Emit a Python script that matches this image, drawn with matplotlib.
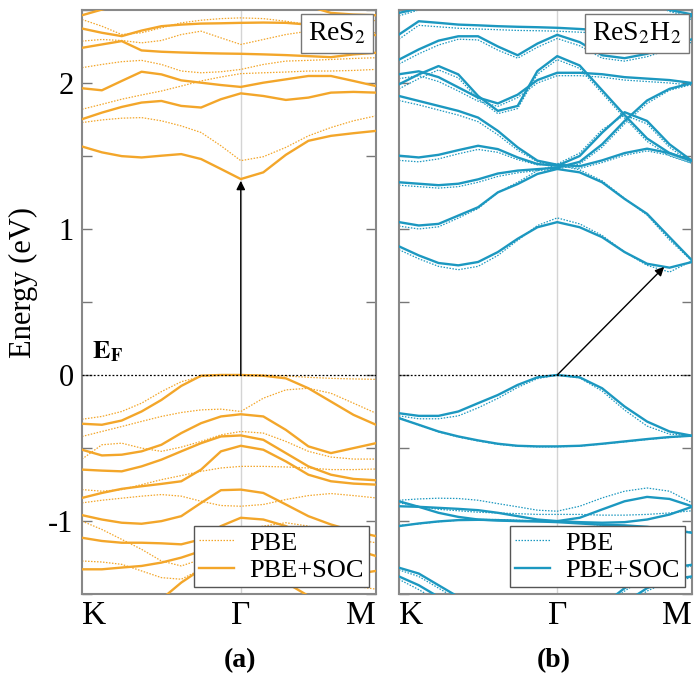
import numpy as np
import matplotlib
matplotlib.use('Agg')
import matplotlib.pyplot as plt
from matplotlib.lines import Line2D

plt.rcParams['font.family'] = ['Liberation Serif', 'DejaVu Serif']
plt.rcParams['mathtext.fontset'] = 'stix'
plt.rcParams['axes.unicode_minus'] = False

# ---------------- data ----------------
kpath_labels = ['K', 'Γ', 'M']
gamma_frac = 0.54
y_tick_values = [-1.5, -1.0, -0.5, 0.0, 0.5, 1.0, 1.5, 2.0, 2.5]
y_tick_labels = ['', '-1', '', '0', '', '1', '', '2', '']

# Panel (a) ReS2 : energies (eV) at 15 k-points along K-Γ-M
res2_soc = [
    [2.464, 2.503, 2.537, 2.548, 2.548, 2.548, 2.548, 2.548, 2.548, 2.548, 2.548, 2.526, 2.480, 2.469, 2.464],
    [2.373, 2.344, 2.321, 2.359, 2.389, 2.400, 2.407, 2.409, 2.412, 2.414, 2.412, 2.400, 2.366, 2.337, 2.328],
    [2.241, 2.264, 2.287, 2.223, 2.214, 2.209, 2.205, 2.202, 2.200, 2.196, 2.191, 2.184, 2.177, 2.196, 2.207],
    [1.964, 1.950, 2.014, 2.077, 2.059, 2.018, 2.002, 1.986, 1.973, 2.002, 2.025, 2.048, 2.048, 2.014, 1.979],
    [1.752, 1.797, 1.836, 1.866, 1.877, 1.843, 1.832, 1.889, 1.929, 1.911, 1.884, 1.900, 1.934, 1.939, 1.934],
    [1.565, 1.525, 1.499, 1.490, 1.502, 1.513, 1.479, 1.411, 1.342, 1.388, 1.508, 1.604, 1.638, 1.656, 1.672],
    [-0.334, -0.341, -0.312, -0.250, -0.171, -0.075, -0.005, 0.0, 0.0, -0.005, -0.023, -0.091, -0.182, -0.273, -0.341],
    [-0.512, -0.551, -0.546, -0.523, -0.478, -0.398, -0.330, -0.284, -0.269, -0.284, -0.376, -0.489, -0.535, -0.501, -0.467],
    [-0.648, -0.655, -0.660, -0.626, -0.580, -0.523, -0.467, -0.421, -0.414, -0.444, -0.535, -0.626, -0.683, -0.712, -0.721],
    [-0.842, -0.808, -0.780, -0.762, -0.746, -0.728, -0.648, -0.523, -0.485, -0.512, -0.592, -0.683, -0.728, -0.744, -0.751],
    [-0.960, -0.990, -1.012, -1.019, -1.001, -0.967, -0.876, -0.789, -0.785, -0.808, -0.887, -0.967, -1.024, -1.069, -1.104],
    [-1.115, -1.137, -1.149, -1.149, -1.153, -1.160, -1.126, -1.035, -0.978, -0.990, -1.035, -1.104, -1.149, -1.194, -1.240],
    [-1.331, -1.331, -1.319, -1.308, -1.285, -1.251, -1.206, -1.183, -1.183, -1.217, -1.285, -1.354, -1.376, -1.365, -1.342],
    [-1.560, -1.560, -1.560, -1.560, -1.536, -1.422, -1.331, -1.285, -1.274, -1.331, -1.422, -1.513, -1.560, -1.560, -1.560],
]
res2_pbe = [
    [2.435, 2.389, 2.332, 2.344, 2.378, 2.412, 2.430, 2.441, 2.446, 2.441, 2.423, 2.400, 2.412, 2.423, 2.428],
    [2.287, 2.298, 2.291, 2.275, 2.291, 2.332, 2.355, 2.309, 2.264, 2.298, 2.332, 2.355, 2.366, 2.355, 2.344],
    [2.105, 2.127, 2.146, 2.155, 2.127, 2.082, 2.070, 2.077, 2.093, 2.127, 2.150, 2.155, 2.161, 2.168, 2.173],
    [1.820, 1.854, 1.889, 1.918, 1.945, 1.979, 2.014, 2.041, 2.064, 2.070, 2.075, 2.082, 2.082, 2.086, 2.093],
    [1.729, 1.747, 1.759, 1.763, 1.741, 1.706, 1.661, 1.570, 1.468, 1.495, 1.559, 1.638, 1.695, 1.741, 1.775],
    [-0.303, -0.284, -0.250, -0.193, -0.114, -0.046, -0.011, 0.0, 0.0, 0.0, -0.007, -0.016, -0.023, -0.027, -0.030],
    [-0.421, -0.387, -0.353, -0.318, -0.284, -0.257, -0.239, -0.234, -0.250, -0.159, -0.102, -0.091, -0.125, -0.193, -0.262],
    [-0.576, -0.478, -0.467, -0.501, -0.523, -0.494, -0.455, -0.410, -0.387, -0.398, -0.455, -0.523, -0.562, -0.576, -0.576],
    [-0.785, -0.796, -0.785, -0.751, -0.717, -0.689, -0.660, -0.637, -0.626, -0.626, -0.630, -0.637, -0.648, -0.648, -0.644],
    [-0.876, -0.858, -0.844, -0.830, -0.819, -0.830, -0.865, -0.894, -0.899, -0.887, -0.853, -0.826, -0.812, -0.826, -0.842],
    [-1.001, -1.058, -1.126, -1.194, -1.274, -1.308, -1.263, -1.149, -1.058, -1.035, -1.012, -1.035, -1.081, -1.126, -1.149],
    [-1.274, -1.281, -1.297, -1.342, -1.388, -1.399, -1.331, -1.263, -1.240, -1.263, -1.308, -1.376, -1.422, -1.445, -1.467],
]

# Panel (b) ReS2H2
res2h2_soc = [
    [0.881, 0.819, 0.767, 0.751, 0.774, 0.842, 0.933, 1.012, 1.047, 1.012, 0.944, 0.842, 0.762, 0.735, 0.774],
    [1.047, 1.024, 1.035, 1.092, 1.149, 1.251, 1.308, 1.377, 1.411, 1.388, 1.320, 1.206, 1.104, 0.944, 0.785],
    [1.320, 1.310, 1.300, 1.310, 1.340, 1.380, 1.400, 1.410, 1.420, 1.460, 1.580, 1.740, 1.880, 1.960, 2.000],
    [1.502, 1.490, 1.508, 1.540, 1.570, 1.547, 1.490, 1.445, 1.433, 1.500, 1.660, 1.800, 1.740, 1.580, 1.467],
    [1.911, 1.877, 1.843, 1.809, 1.763, 1.672, 1.559, 1.468, 1.440, 1.430, 1.470, 1.520, 1.550, 1.520, 1.467],
    [2.060, 2.080, 2.040, 1.970, 1.900, 1.860, 1.920, 2.020, 2.070, 2.070, 2.060, 2.040, 2.030, 2.020, 2.000],
    [1.991, 2.059, 2.116, 2.059, 1.911, 1.809, 1.843, 2.082, 2.184, 2.120, 1.950, 1.780, 1.620, 1.520, 1.467],
    [2.160, 2.230, 2.290, 2.320, 2.320, 2.250, 2.190, 2.270, 2.330, 2.280, 2.190, 2.170, 2.200, 2.250, 2.300],
    [2.332, 2.423, 2.412, 2.400, 2.395, 2.389, 2.385, 2.382, 2.378, 2.370, 2.360, 2.360, 2.380, 2.420, 2.460],
    [2.480, 2.510, 2.560, 2.600, 2.600, 2.600, 2.600, 2.600, 2.600, 2.600, 2.600, 2.600, 2.560, 2.500, 2.470],
    [-0.262, -0.280, -0.280, -0.250, -0.193, -0.137, -0.068, -0.016, 0.000, -0.016, -0.091, -0.216, -0.319, -0.387, -0.416],
    [-0.296, -0.341, -0.387, -0.421, -0.448, -0.471, -0.485, -0.489, -0.489, -0.485, -0.471, -0.455, -0.439, -0.425, -0.416],
    [-0.899, -0.903, -0.910, -0.917, -0.926, -0.944, -0.967, -0.990, -1.001, -0.978, -0.921, -0.865, -0.835, -0.849, -0.899],
    [-0.865, -0.903, -0.944, -0.972, -0.990, -0.997, -1.001, -1.001, -1.001, -1.008, -1.012, -1.008, -0.990, -0.956, -0.903],
    [-1.035, -1.017, -1.003, -0.994, -0.992, -0.994, -0.999, -1.003, -1.008, -1.017, -1.026, -1.030, -1.040, -1.058, -1.081],
    [-1.320, -1.360, -1.440, -1.520, -1.580, -1.640, -1.700, -1.740, -1.750, -1.700, -1.580, -1.460, -1.360, -1.320, -1.300],
    [-1.380, -1.440, -1.520, -1.600, -1.680, -1.740, -1.800, -1.820, -1.820, -1.780, -1.680, -1.560, -1.460, -1.400, -1.380],
]
res2h2_pbe = [
    [0.858, 0.796, 0.744, 0.721, 0.744, 0.819, 0.922, 1.024, 1.076, 1.035, 0.956, 0.842, 0.751, 0.705, 0.781],
    [1.020, 1.000, 1.015, 1.075, 1.140, 1.250, 1.320, 1.400, 1.440, 1.405, 1.330, 1.210, 1.095, 0.925, 0.781],
    [1.300, 1.290, 1.280, 1.290, 1.320, 1.360, 1.385, 1.400, 1.410, 1.445, 1.560, 1.720, 1.860, 1.950, 1.990],
    [1.470, 1.460, 1.480, 1.515, 1.545, 1.525, 1.475, 1.440, 1.445, 1.520, 1.680, 1.780, 1.720, 1.560, 1.450],
    [1.880, 1.850, 1.815, 1.780, 1.735, 1.645, 1.540, 1.460, 1.430, 1.415, 1.455, 1.505, 1.535, 1.505, 1.450],
    [2.030, 2.050, 2.010, 1.945, 1.875, 1.840, 1.900, 2.000, 2.050, 2.050, 2.040, 2.020, 2.010, 2.000, 1.985],
    [1.960, 2.030, 2.090, 2.035, 1.890, 1.790, 1.825, 2.060, 2.160, 2.100, 1.930, 1.760, 1.600, 1.500, 1.450],
    [2.130, 2.200, 2.260, 2.300, 2.295, 2.225, 2.170, 2.245, 2.305, 2.255, 2.170, 2.150, 2.180, 2.230, 2.280],
    [2.300, 2.395, 2.385, 2.375, 2.370, 2.365, 2.360, 2.358, 2.355, 2.348, 2.340, 2.340, 2.360, 2.400, 2.440],
    [2.460, 2.500, 2.550, 2.600, 2.600, 2.600, 2.600, 2.600, 2.600, 2.600, 2.600, 2.600, 2.550, 2.490, 2.450],
    [-0.280, -0.300, -0.300, -0.280, -0.225, -0.160, -0.085, -0.025, 0.000, -0.020, -0.110, -0.240, -0.350, -0.405, -0.416],
    [-0.290, -0.345, -0.390, -0.425, -0.452, -0.475, -0.488, -0.492, -0.492, -0.487, -0.473, -0.458, -0.442, -0.428, -0.416],
    [-0.858, -0.849, -0.844, -0.846, -0.858, -0.881, -0.903, -0.926, -0.933, -0.899, -0.842, -0.796, -0.774, -0.796, -0.876],
    [-0.876, -0.900, -0.920, -0.930, -0.940, -0.945, -0.950, -0.955, -0.955, -0.955, -0.960, -0.960, -0.955, -0.945, -0.930],
    [-1.030, -1.020, -1.005, -0.995, -0.990, -0.990, -0.995, -1.000, -1.005, -1.015, -1.030, -1.040, -1.050, -1.060, -1.075],
    [-1.335, -1.380, -1.460, -1.540, -1.600, -1.660, -1.720, -1.760, -1.770, -1.720, -1.600, -1.480, -1.380, -1.330, -1.310],
    [-1.400, -1.470, -1.550, -1.630, -1.700, -1.760, -1.820, -1.840, -1.840, -1.800, -1.700, -1.580, -1.480, -1.410, -1.390],
]

# transition arrows (start -> end, in (k, E))
arrow_a = ((gamma_frac, 0.0), (gamma_frac, 1.33))
arrow_b = ((gamma_frac, 0.0), (0.905, 0.74))

# ---------------- figure ----------------
k = np.concatenate([np.linspace(0, gamma_frac, 9), np.linspace(gamma_frac, 1, 7)[1:]])

orange = '#F3A62A'
blue = '#1C98C0'

fig = plt.figure(figsize=(6.94, 6.80), dpi=100)
axa = fig.add_axes([0.1182, 0.1265, 0.4236, 0.8588])
axb = fig.add_axes([0.5749, 0.1265, 0.4222, 0.8588])


def draw(ax, pbe, soc, color, name, arrow, show_ylabels):
    ax.axvline(gamma_frac, color='#d4d4d4', lw=1.0, zorder=0)
    for band in pbe:
        ax.plot(k, band, color=color, lw=0.9, ls=(0, (1.2, 1.2)), zorder=2)
    for band in soc:
        ax.plot(k, band, color=color, lw=1.7, ls='-', zorder=3)
    ax.axhline(0, color='black', lw=0.9, ls=(0, (1.5, 1.5)), zorder=4)
    ax.annotate('', xy=arrow[1], xytext=arrow[0],
                arrowprops=dict(arrowstyle='-|>', color='black', lw=1.0,
                                mutation_scale=13, shrinkA=0, shrinkB=0),
                zorder=6)
    ax.set_xlim(0, 1)
    ax.set_ylim(-1.5, 2.5)
    ax.set_xticks([0, gamma_frac, 1])
    labels = ax.set_xticklabels(kpath_labels, fontsize=24)
    labels[0].set_horizontalalignment('left')
    labels[2].set_horizontalalignment('right')
    ax.tick_params(axis='x', length=0, pad=5)
    ax.set_yticks(y_tick_values)
    if show_ylabels:
        ax.set_yticklabels(y_tick_labels, fontsize=22)
    else:
        ax.set_yticklabels([])
    ax.tick_params(axis='y', direction='in', left=True, right=True,
                   length=7, width=1.0, color='#777777', pad=6)
    for s in ax.spines.values():
        s.set_color('#888888')
        s.set_linewidth(1.5)
    ax.text(0.965, 0.982, name, transform=ax.transAxes, ha='right', va='top',
            fontsize=20, zorder=7,
            bbox=dict(boxstyle='square,pad=0.25', fc='white', ec='#777777', lw=1.0))
    handles = [Line2D([], [], color=color, lw=0.9, ls=(0, (1.2, 1.2))),
               Line2D([], [], color=color, lw=1.7)]
    leg = ax.legend(handles, ['PBE', 'PBE+SOC'], loc='lower right', fontsize=19,
                    frameon=True, fancybox=False, framealpha=1, edgecolor='#555555',
                    handlelength=1.3, handletextpad=0.6, borderpad=0.2,
                    labelspacing=0.15, borderaxespad=0.25)
    leg.get_frame().set_linewidth(1.0)
    leg.set_zorder(8)


draw(axa, res2_pbe, res2_soc, orange, 'ReS$_2$', arrow_a, True)
draw(axb, res2h2_pbe, res2h2_soc, blue, 'ReS$_2$H$_2$', arrow_b, False)

axa.set_ylabel('Energy (eV)', fontsize=22)
axa.yaxis.set_label_coords(-0.15, 0.534)
axa.text(0.035, 0.16, r'$\mathbf{E}_{\mathbf{F}}$', fontsize=19, ha='left', va='center')

fig.text(0.346, 0.029, '(a)', fontsize=20, fontweight='bold', ha='center', va='center')
fig.text(0.798, 0.029, '(b)', fontsize=20, fontweight='bold', ha='center', va='center')

fig.savefig('out.png', dpi=100)
